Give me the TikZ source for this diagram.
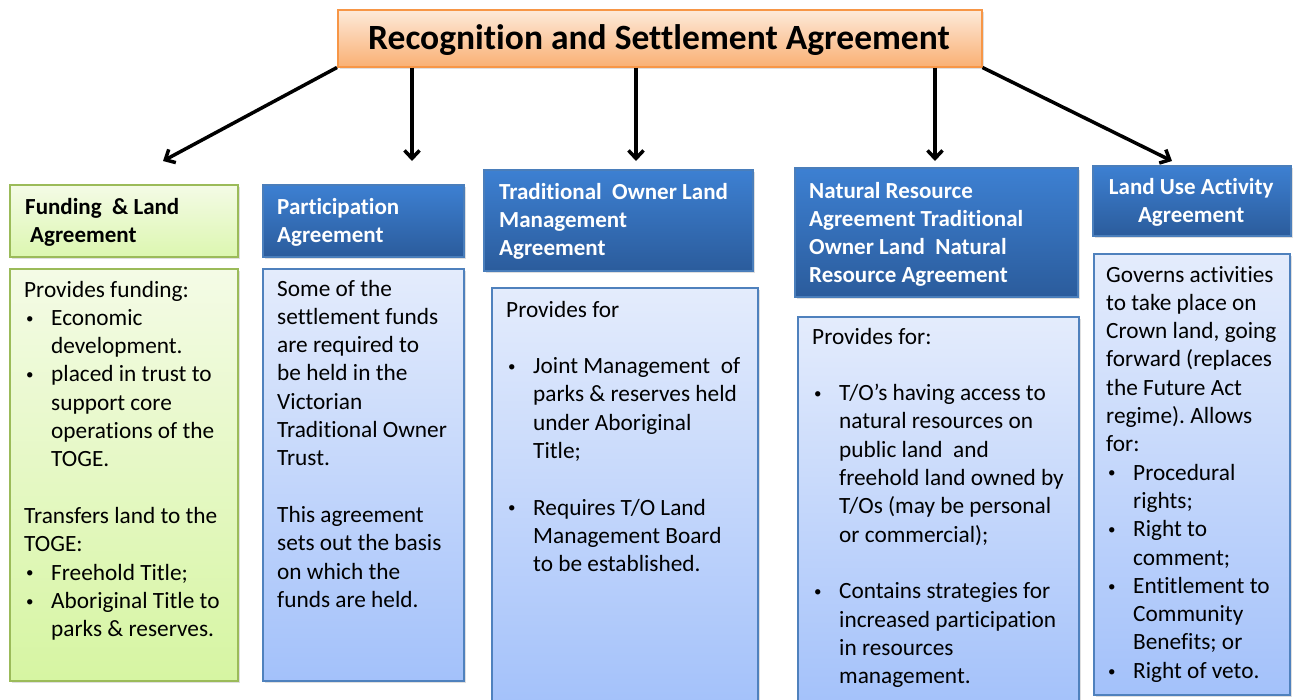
\documentclass[tikz,border=0pt]{standalone}
\usepackage{fontspec}
\setmainfont{Carlito}[Ligatures=NoCommon]
\usetikzlibrary{arrows.meta,shadows}

\definecolor{titleTop}{HTML}{FDEADA}
\definecolor{titleBot}{HTML}{F9B074}
\definecolor{titleBd}{HTML}{F79646}
\definecolor{hTop}{HTML}{3D80D2}
\definecolor{hBot}{HTML}{2B5C9C}
\definecolor{hBd}{HTML}{4A7EBB}
\definecolor{bTop}{HTML}{E4ECFC}
\definecolor{bBot}{HTML}{A3C1FA}
\definecolor{bBd}{HTML}{4F81BD}
\definecolor{gTop}{HTML}{F4FBE6}
\definecolor{gBot}{HTML}{D6F5A2}
\definecolor{gBd}{HTML}{9BBB59}

\newcommand\mydot{\raisebox{2.2pt}{\fontsize{15}{15}\selectfont\textbullet}}
\newcommand\myb[1]{\hspace*{2pt}\makebox[25pt][l]{\mydot}#1}
\newcommand\myc[1]{\hspace*{27pt}#1}
\newcommand\bodyfont{\frenchspacing\fontsize{23.3}{28.3}\selectfont}
\newcommand\hdfont{\frenchspacing\fontsize{23}{28.3}\selectfont\bfseries}
\newcommand\gap{\\[28.3pt]}

\tikzset{
  box/.style={rectangle, inner sep=0pt, anchor=north west, line width=1.5pt,
    drop shadow={shadow xshift=2.5pt, shadow yshift=-2.5pt, opacity=0.25}},
  titlebox/.style={box, draw=titleBd, top color=titleTop, bottom color=titleBot},
  hblue/.style={box, draw=hBd, top color=hTop, bottom color=hBot},
  bblue/.style={box, draw=bBd, top color=bTop, bottom color=bBot},
  hgreen/.style={box, draw=gBd, top color=gTop, bottom color=gBot!85!white},
  bgreen/.style={box, draw=gBd, top color=gTop, bottom color=gBot},
  txt/.style={anchor=base west, inner sep=0pt},
  arr/.style={line width=3.5pt, -{Straight Barb[length=8pt, width=15pt]}}
}

\begin{document}
\begin{tikzpicture}[x=1pt,y=-1pt]
\useasboundingbox (0,0) rectangle (1293,699);

% title
\node[titlebox, minimum width=644pt, minimum height=57pt] (title) at (337,9) {};
\node[anchor=base, inner sep=0pt, font=\fontsize{35.5}{38}\selectfont\bfseries] (titletxt)
  at (659,49) {Recognition and Settlement Agreement};

% headers
\node[hgreen, minimum width=228pt, minimum height=72pt] (h1) at (9,184) {};
\node[hblue, minimum width=201pt, minimum height=72pt] (h2) at (262,184) {};
\node[hblue, minimum width=269pt, minimum height=101pt] (h3) at (483,169) {};
\node[hblue, minimum width=283pt, minimum height=129pt] (h4) at (794,167) {};
\node[hblue, minimum width=198pt, minimum height=70pt] (h5) at (1092,165) {};

% bodies
\node[bgreen, minimum width=228pt, minimum height=412pt] (b1) at (9,268) {};
\node[bblue, minimum width=201pt, minimum height=412pt] (b2) at (262,268) {};
\node[bblue, minimum width=266pt, minimum height=420pt] (b3) at (491,287) {};
\node[bblue, minimum width=281pt, minimum height=392pt] (b4) at (797,316) {};
\node[bblue, minimum width=196pt, minimum height=441pt] (b5) at (1093,253) {};

% arrows
\coordinate (t1) at (163,161);
\coordinate (t2) at (412,161);
\coordinate (t3) at (636,161);
\coordinate (t4) at (935,161);
\coordinate (t5) at (1172,161);
\draw[arr] (title.south west) -- (t1);
\draw[arr] (title.south -| t2) -- (t2);
\draw[arr] (title.south -| t3) -- (t3);
\draw[arr] (title.south -| t4) -- (t4);
\draw[arr] (title.south east) -- (t5);

% header texts
\node[txt] (h1t) at (25,214) {\parbox[t]{300pt}{\hdfont Funding\ \ \&\ Land\\\hspace*{5pt}Agreement}};
\node[txt, text=white] (h2t) at (277,214) {\parbox[t]{300pt}{\hdfont Participation\\Agreement}};
\node[txt, text=white] (h3t) at (499,199) {\parbox[t]{300pt}{\hdfont Traditional\ \ Owner Land\\Management\\Agreement}};
\node[txt, text=white] (h4t) at (809,198) {\parbox[t]{300pt}{\hdfont Natural Resource\\Agreement Traditional\\Owner Land\ \ Natural\\Resource Agreement}};
\node[txt, text=white] (h5t) at (1091,194) {\parbox[t]{200pt}{\centering\hdfont Land Use Activity\\Agreement}};

% body texts
\node[txt] (b1t) at (24,297) {\parbox[t]{300pt}{\raggedright\bodyfont
Provides funding:\\
\myb{Economic}\\
\myc{development.}\\
\myb{placed in trust to}\\
\myc{support core}\\
\myc{operations of the}\\
\myc{TOGE.}\gap
Transfers land to the\\
TOGE:\\
\myb{Freehold Title;}\\
\myb{Aboriginal Title to}\\
\myc{parks \& reserves.}}};

\node[txt] (b2t) at (277,296) {\parbox[t]{300pt}{\raggedright\bodyfont
Some of the\\
settlement funds\\
are required to\\
be held in the\\
Victorian\\
Traditional Owner\\
Trust.\gap
This agreement\\
sets out the basis\\
on which the\\
funds are held.}};

\node[txt] (b3t) at (506,317) {\parbox[t]{300pt}{\raggedright\bodyfont
Provides for\gap
\myb{Joint Management\ \ of}\\
\myc{parks \& reserves held}\\
\myc{under Aboriginal}\\
\myc{Title;}\gap
\myb{Requires T/O Land}\\
\myc{Management Board}\\
\myc{to be established.}}};

\node[txt] (b4t) at (812,344) {\parbox[t]{300pt}{\raggedright\bodyfont
Provides for:\gap
\myb{T/O’s having access to}\\
\myc{natural resources on}\\
\myc{public land\ \ and}\\
\myc{freehold land owned by}\\
\myc{T/Os (may be personal}\\
\myc{or commercial);}\gap
\myb{Contains strategies for}\\
\myc{increased participation}\\
\myc{in resources}\\
\myc{management.}}};

\node[txt] (b5t) at (1106,282) {\parbox[t]{300pt}{\raggedright\bodyfont
Governs activities\\
to take place on\\
Crown land, going\\
forward (replaces\\
the Future Act\\
regime). Allows\\
for:\\
\myb{Procedural}\\
\myc{rights;}\\
\myb{Right to}\\
\myc{comment;}\\
\myb{Entitlement to}\\
\myc{Community}\\
\myc{Benefits; or}\\
\myb{Right of veto.}}};
\end{tikzpicture}
\end{document}
